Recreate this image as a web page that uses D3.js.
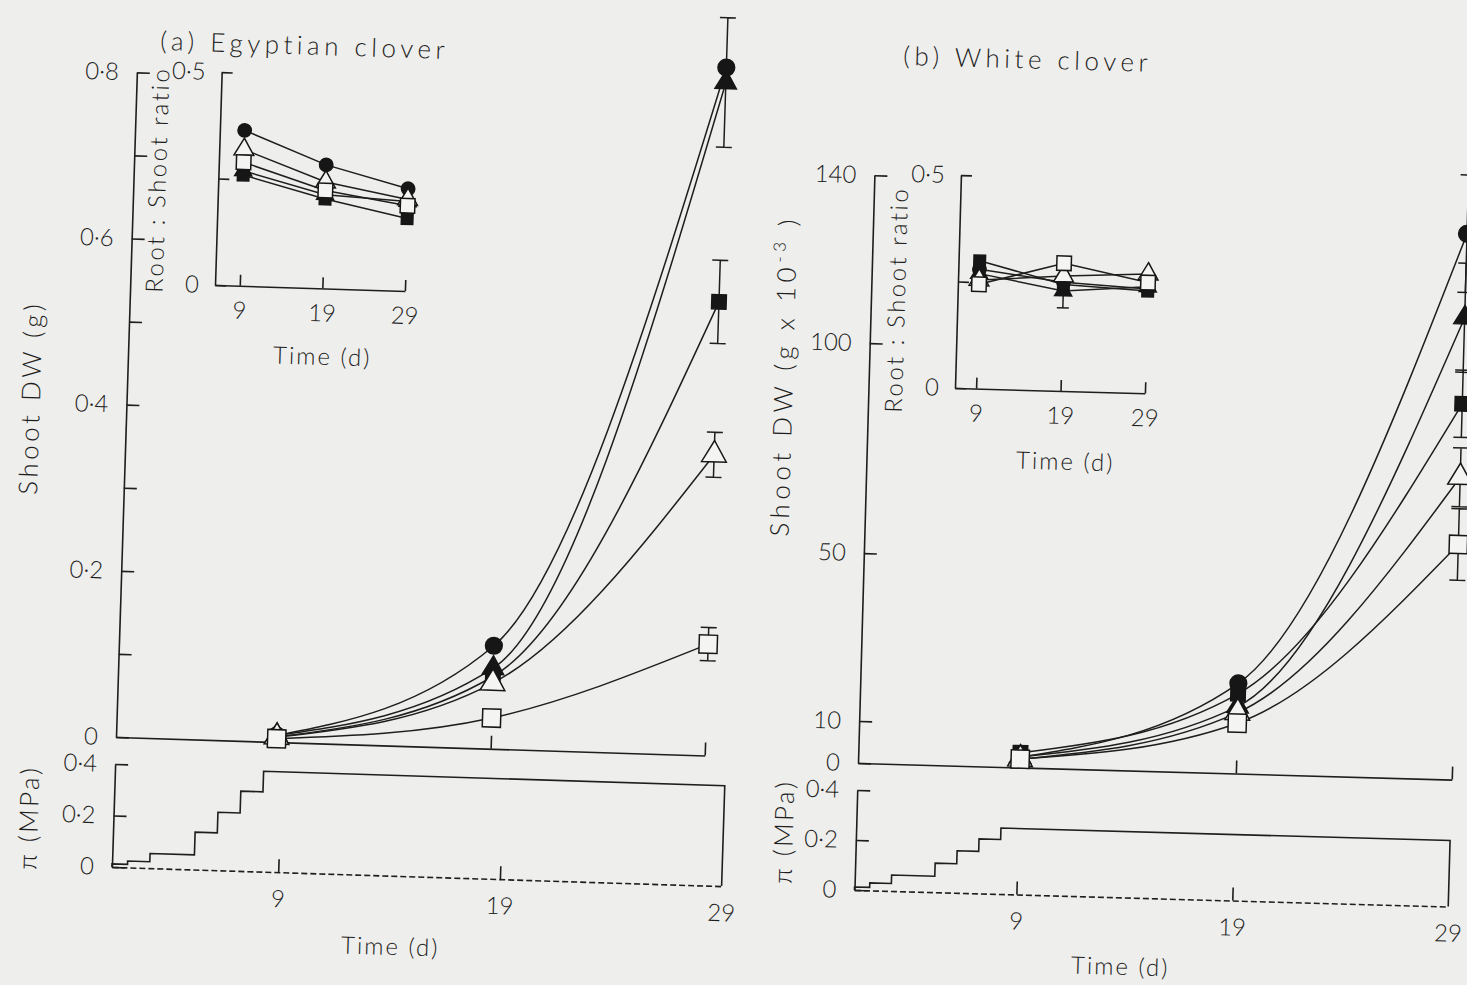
<!DOCTYPE html>
<html>
<head>
<meta charset="utf-8">
<script src="https://cdn.jsdelivr.net/npm/d3@7"></script>
<style>
  body { margin: 0; background: #eeeeec; }
  text { font-family: Lato, "Open Sans", sans-serif; font-weight: 300; fill: #1e1e1e; }
  .axis path, .axis line { stroke: #1e1e1e; stroke-width: 1.6; fill: none; }
  .axis text { font-size: 24px; }
</style>
</head>
<body>
<svg id="fig" width="1467" height="985"></svg>
<script>
// sampling days of the growth curves and the insets
const days = [9, 19, 29]
// marker order used by every table below
const markers = ['filledCircle', 'filledTriangle', 'filledSquare', 'openTriangle', 'openSquare']

// (a) Egyptian clover: shoot DW (g)
const shootA = [
  [0.008, 0.124, 0.828],
  [0.008, 0.097, 0.81],
  [0.006, 0.087, 0.546],
  [0.006, 0.079, 0.362],
  [0.004, 0.037, 0.134]
]
const shootAErr29 = [0, 0.078, 0.05, 0.027, 0.02]
// (a) root:shoot ratio
const ratioA = [
  [0.365, 0.29, 0.24],
  [0.27, 0.22, 0.21],
  [0.26, 0.21, 0.17],
  [0.32, 0.25, 0.215],
  [0.29, 0.23, 0.2]
]

// (b) White clover: shoot DW (g x 10^-3)
const shootB = [
  [2.5, 21.5, 130],
  [2.5, 16, 110],
  [3.5, 19, 89.5],
  [2, 14.5, 72],
  [2, 12, 56]
]
const shootBErr29 = [14, 13, 8, 7, 8.5]
// (b) root:shoot ratio
const ratioB = [
  [0.28, 0.255, 0.245],
  [0.27, 0.235, 0.25],
  [0.3, 0.25, 0.24],
  [0.255, 0.27, 0.28],
  [0.245, 0.3, 0.26]
]
const ratioBErr19 = [0, 0.04, 0, 0, 0]

// osmotic pressure of the medium, stepped up until day 8
const stepDays = [1.5, 2.2, 3.2, 5.2, 6.2, 7.2, 8.2]
const piA = [0.012, 0.025, 0.057, 0.145, 0.225, 0.31, 0.39]
const piB = [0.012, 0.03, 0.064, 0.116, 0.168, 0.218, 0.264]

const ticksA = [0, 0.1, 0.2, 0.3, 0.4, 0.5, 0.6, 0.7, 0.8]
const ticksB = [0, 10, 50, 100, 140]
const ticksPi = [0, 0.2, 0.4]
const ticksRatio = [0, 0.25, 0.5]

const svg = d3.select('#fig')
const dot = d => d === 0 ? '0' : d3.format('.1f')(d).replace('.', '\u00b7')

// scanned page is slightly tilted: convert a page position to the panel frame
const toLocal = (p, o, deg) => {
  const t = -deg * Math.PI / 180
  const dx = p[0] - o[0]
  const dy = p[1] - o[1]
  return [o[0] + dx * Math.cos(t) - dy * Math.sin(t), o[1] + dx * Math.sin(t) + dy * Math.cos(t)]
}

const symType = {
  filledCircle: d3.symbolCircle,
  filledTriangle: d3.symbolTriangle,
  filledSquare: d3.symbolSquare,
  openTriangle: d3.symbolTriangle,
  openSquare: d3.symbolSquare
}
const symFill = k => k.startsWith('open') ? '#f4f4f2' : '#161616'
const symSize = (k, s) => s * ({ filledCircle: 1, filledTriangle: 0.9, filledSquare: 0.95, openTriangle: 1.2, openSquare: 1.5 })[k]

const drawMarkers = (g, x, y, vals, size) => {
  vals.forEach((row, i) => {
    const k = markers[i]
    g.selectAll(null).data(row).enter().append('path')
      .attr('transform', (d, j) => `translate(${x(days[j])},${y(d)})`)
      .attr('d', d3.symbol().type(symType[k]).size(symSize(k, size)))
      .attr('fill', symFill(k))
      .attr('stroke', '#161616')
      .attr('stroke-width', 1.5)
  })
}

const drawErr = (g, x, y, day, vals, errs, cap) => {
  errs.forEach((e, i) => {
    if (!e) return
    const v = vals[i][days.indexOf(day)]
    const cx = x(day)
    g.append('path')
      .attr('d', `M${cx},${y(v - e)}V${y(v + e)}M${cx - cap},${y(v + e)}H${cx + cap}M${cx - cap},${y(v - e)}H${cx + cap}`)
      .attr('stroke', '#1e1e1e').attr('stroke-width', 1.5).attr('fill', 'none')
  })
}

const drawPanel = cfg => {
  const o = cfg.origin
  const g = svg.append('g').attr('transform', `rotate(${cfg.angle},${o[0]},${o[1]})`)
  const L = p => toLocal(p, o, cfg.angle)

  // title
  const tp = L(cfg.title.at)
  g.append('text').attr('x', tp[0]).attr('y', tp[1])
    .style('font-size', '26px').style('letter-spacing', '4.5px')
    .text(cfg.title.text)

  // main shoot DW plot
  const x = d3.scaleLinear().domain([1.5, 29]).range(cfg.xRange)
  const y = d3.scaleLinear().domain(cfg.yDomain).range([o[1], cfg.yTop])

  g.append('g').attr('class', 'axis')
    .attr('transform', `translate(${o[0]},0)`)
    .call(d3.axisLeft(y).tickValues(cfg.yTicks).tickSizeInner(-13).tickSizeOuter(0).tickPadding(18)
      .tickFormat(cfg.yFmt))
  g.append('g').attr('class', 'axis')
    .attr('transform', `translate(0,${o[1]})`)
    .call(d3.axisBottom(x).tickValues(days).tickSizeInner(-13).tickSizeOuter(0).tickFormat(''))

  const curve = d3.line().x((d, j) => x(days[j])).y(d => y(d)).curve(d3.curveMonotoneX)
  cfg.shoot.forEach(row => {
    g.append('path').attr('d', curve(row))
      .attr('fill', 'none').attr('stroke', '#1e1e1e').attr('stroke-width', 1.5)
  })
  drawErr(g, x, y, 29, cfg.shoot, cfg.err29, 8)
  drawMarkers(g, x, y, cfg.shoot, 220)

  const yl = L(cfg.yLabel.at)
  const ylab = g.append('text')
    .attr('transform', `translate(${yl[0]},${yl[1]}) rotate(-90)`)
    .attr('text-anchor', 'middle')
    .style('font-size', '26px').style('letter-spacing', cfg.yLabel.spacing)
  ylab.append('tspan').text(cfg.yLabel.text)
  if (cfg.yLabel.sup) {
    ylab.append('tspan').attr('dy', -11).style('font-size', '17px').text(cfg.yLabel.sup)
    ylab.append('tspan').attr('dy', 11).text(' )')
  }

  // osmotic pressure strip (the scan stretches its lower edge a little)
  const xPi = d3.scaleLinear().domain([1.5, 29]).range(cfg.piXRange)
  const yPi = d3.scaleLinear().domain([0, 0.4]).range([cfg.piZero, cfg.piTop])
  g.append('g').attr('class', 'axis')
    .attr('transform', `translate(${o[0]},0)`)
    .call(d3.axisLeft(yPi).tickValues(ticksPi).tickSizeInner(-13).tickSizeOuter(0).tickPadding(18).tickFormat(dot))
  const xPiAxis = g.append('g').attr('class', 'axis')
    .attr('transform', `translate(0,${cfg.piZero})`)
    .call(d3.axisBottom(xPi).tickValues(days).tickSizeInner(-13).tickSizeOuter(0).tickPadding(18))
  xPiAxis.select('.domain').attr('stroke-dasharray', '6,3')
  xPiAxis.selectAll('.tick').filter(d => d === 29).select('line').remove()

  const steps = [[stepDays[0], 0]]
    .concat(stepDays.map((d, i) => [d, cfg.pi[i]]))
    .concat([[29, cfg.pi[cfg.pi.length - 1]], [29, 0]])
  g.append('path')
    .attr('d', d3.line().x(d => xPi(d[0])).y(d => yPi(d[1])).curve(d3.curveStepAfter)(steps))
    .attr('fill', 'none').attr('stroke', '#1e1e1e').attr('stroke-width', 1.6)

  const pl = L(cfg.piLabel)
  g.append('text')
    .attr('transform', `translate(${pl[0]},${pl[1]}) rotate(-90)`)
    .attr('text-anchor', 'middle')
    .style('font-size', '26px').style('letter-spacing', '2.5px')
    .text('\u03c0  (MPa)')
  const tl = L(cfg.timeLabel)
  g.append('text').attr('x', tl[0]).attr('y', tl[1]).attr('text-anchor', 'middle')
    .style('font-size', '24px').style('letter-spacing', '2px')
    .text('Time  (d)')

  // root:shoot inset
  const io = L(cfg.inset.origin)
  const xi = d3.scaleLinear().domain(cfg.inset.xDomain).range([io[0], io[0] + 190])
  const yi = d3.scaleLinear().domain([0, 0.5]).range([io[1], io[1] - 213])
  g.append('g').attr('class', 'axis')
    .attr('transform', `translate(${io[0]},0)`)
    .call(d3.axisLeft(yi).tickValues(ticksRatio).tickSizeInner(-11).tickSizeOuter(0).tickPadding(16)
      .tickFormat(d => d === 0.25 ? '' : dot(d)))
  g.append('g').attr('class', 'axis')
    .attr('transform', `translate(0,${io[1]})`)
    .call(d3.axisBottom(xi).tickValues(days).tickSizeInner(-11).tickSizeOuter(0).tickPadding(16))

  const seg = d3.line().x((d, j) => xi(days[j])).y(d => yi(d))
  cfg.ratio.forEach(row => {
    g.append('path').attr('d', seg(row))
      .attr('fill', 'none').attr('stroke', '#1e1e1e').attr('stroke-width', 1.5)
  })
  if (cfg.ratioErr19) drawErr(g, xi, yi, 19, cfg.ratio, cfg.ratioErr19, 6)
  drawMarkers(g, xi, yi, cfg.ratio, 140)

  const rl = L(cfg.inset.ratioLabel)
  g.append('text')
    .attr('transform', `translate(${rl[0]},${rl[1]}) rotate(-90)`)
    .attr('text-anchor', 'middle')
    .style('font-size', '24px').style('letter-spacing', '2.5px')
    .text('Root : Shoot  ratio')
  const itl = L(cfg.inset.timeLabel)
  g.append('text').attr('x', itl[0]).attr('y', itl[1]).attr('text-anchor', 'middle')
    .style('font-size', '24px').style('letter-spacing', '2px')
    .text('Time  (d)')
}

drawPanel({
  origin: [116, 737],
  angle: 1.8,
  title: { text: '(a)  Egyptian  clover', at: [160, 50] },
  xRange: [116, 705],
  yDomain: [0, 0.8],
  yTop: 72,
  yTicks: ticksA,
  yFmt: d => Math.round(d * 10) % 2 === 0 ? dot(d) : '',
  yLabel: { text: 'Shoot  DW  (g)', at: [40, 398], spacing: '3.5px' },
  shoot: shootA,
  err29: shootAErr29,
  piXRange: [116, 726],
  piZero: 867,
  piTop: 764,
  pi: piA,
  piLabel: [38, 818],
  timeLabel: [390, 955],
  ratio: ratioA,
  inset: { origin: [215, 285], xDomain: [6, 29], ratioLabel: [166, 180], timeLabel: [322, 365] }
})

drawPanel({
  origin: [858, 763],
  angle: 1.6,
  title: { text: '(b)  White  clover', at: [903, 65] },
  xRange: [858, 1452],
  yDomain: [0, 140],
  yTop: 175,
  yTicks: ticksB,
  yFmt: d3.format('d'),
  yLabel: { text: 'Shoot  DW    (g x 10', sup: '-3', at: [793, 376], spacing: '4.5px' },
  shoot: shootB,
  err29: shootBErr29,
  piXRange: [858, 1452],
  piZero: 890,
  piTop: 790,
  pi: piB,
  piLabel: [793, 832],
  timeLabel: [1120, 975],
  ratio: ratioB,
  ratioErr19: ratioBErr19,
  inset: { origin: [955, 388], xDomain: [6.5, 29], ratioLabel: [905, 300], timeLabel: [1065, 470] }
})
</script>
</body>
</html>
